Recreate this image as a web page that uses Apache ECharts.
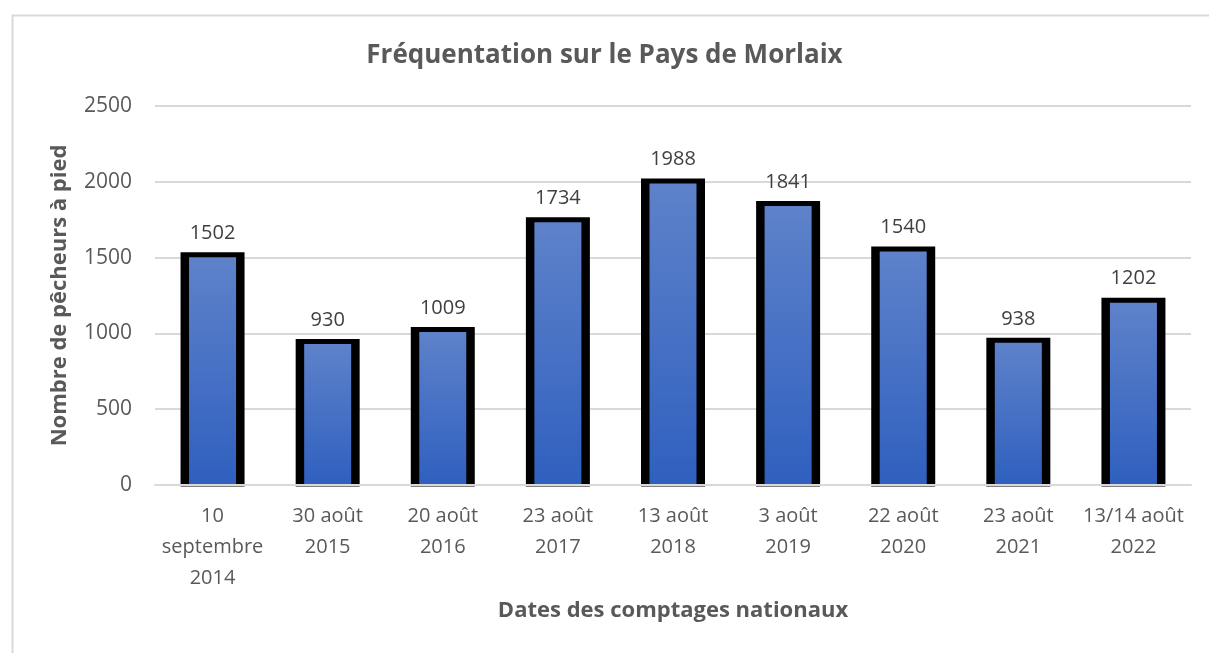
<!DOCTYPE html>
<html>
<head>
<meta charset="utf-8">
<script src="https://cdn.jsdelivr.net/npm/echarts@6/dist/echarts.min.js"></script>
<style>
  html, body { margin: 0; padding: 0; background: #ffffff; }
  #chart { width: 1209px; height: 653px; }
</style>
</head>
<body>
<div id="chart"></div>
<script>
// Dates of the national counts
const categories = [
  '10\nseptembre\n2014', '30 août\n2015', '20 août\n2016', '23 août\n2017',
  '13 août\n2018', '3 août\n2019', '22 août\n2020', '23 août\n2021', '13/14 août\n2022'
];
// Number of shore fishers counted
const counts = [1502, 930, 1009, 1734, 1988, 1841, 1540, 938, 1202];
// Value axis
const yMin = 0;
const yMax = 2500;
const yStep = 500;

const FONT = '"Open Sans", "Noto Sans", sans-serif';
const chart = echarts.init(document.getElementById('chart'));

const fillGradient = new echarts.graphic.LinearGradient(0, 0, 0, 1, [
  { offset: 0, color: '#5e82ca' },
  { offset: 1, color: '#2f60bf' }
]);

// Bar with a thick black outline whose stroke straddles the bar edge
function renderBar(params, api) {
  const idx = api.value(0);
  const val = api.value(1);
  const top = api.coord([idx, val]);
  const base = api.coord([idx, 0]);
  const cx = top[0];
  const innerHalf = 23.5;
  const outerHalf = 32;
  const over = 5;
  return {
    type: 'group',
    children: [
      {
        type: 'rect',
        shape: { x: cx - outerHalf, y: top[1] - over, width: outerHalf * 2, height: base[1] - top[1] + over + 1.5 },
        style: { fill: '#000000' }
      },
      {
        type: 'rect',
        shape: { x: cx - innerHalf, y: top[1], width: innerHalf * 2, height: base[1] - top[1] - 1 },
        style: { fill: fillGradient }
      },
      {
        type: 'rect',
        shape: { x: cx - outerHalf - 2, y: base[1] - 1, width: outerHalf * 2 + 4, height: 2 },
        style: { fill: '#d9d9d9' }
      },
      {
        type: 'text',
        x: cx,
        y: top[1] - over - 9,
        style: {
          text: String(val),
          align: 'center',
          verticalAlign: 'bottom',
          fontFamily: FONT, fontSize: 20, fill: '#404040'
        }
      }
    ]
  };
}

chart.setOption({
  backgroundColor: '#ffffff',
  animation: false,
  graphic: [{
    type: 'rect',
    left: 10, top: 13,
    shape: { width: 1400, height: 800 },
    style: { fill: 'none', stroke: '#d9d9d9', lineWidth: 2 },
    z: -1
  }],
  title: {
    text: 'Fréquentation sur le Pays de Morlaix',
    left: 'center',
    top: 38,
    textStyle: { fontFamily: FONT, fontSize: 26, fontWeight: 'bold', color: '#595959' }
  },
  grid: { left: 155, right: 18, top: 106, bottom: 168, containLabel: false },
  xAxis: {
    type: 'category',
    data: categories,
    name: 'Dates des comptages nationaux',
    nameLocation: 'middle',
    nameGap: 115,
    nameTextStyle: { fontFamily: FONT, fontSize: 22, fontWeight: 'bold', color: '#595959' },
    axisLine: { lineStyle: { color: '#d9d9d9', width: 2 } },
    axisTick: { show: false },
    axisLabel: {
      fontFamily: FONT, fontSize: 20, color: '#595959',
      lineHeight: 31, margin: 16, interval: 0
    }
  },
  yAxis: {
    type: 'value',
    min: yMin, max: yMax, interval: yStep,
    name: 'Nombre de pêcheurs à pied',
    nameLocation: 'middle',
    nameGap: 84,
    nameTextStyle: { fontFamily: FONT, fontSize: 22, fontWeight: 'bold', color: '#595959' },
    axisLine: { show: false },
    axisTick: { show: false },
    axisLabel: {
      fontFamily: FONT, fontSize: 21, color: '#595959', margin: 23,
      formatter: v => String(v)
    },
    splitLine: { lineStyle: { color: '#d9d9d9', width: 2 } }
  },
  series: [{
    type: 'custom',
    renderItem: renderBar,
    encode: { x: 0, y: 1 },
    data: counts.map((v, i) => [i, v])
  }]
});
</script>
</body>
</html>
